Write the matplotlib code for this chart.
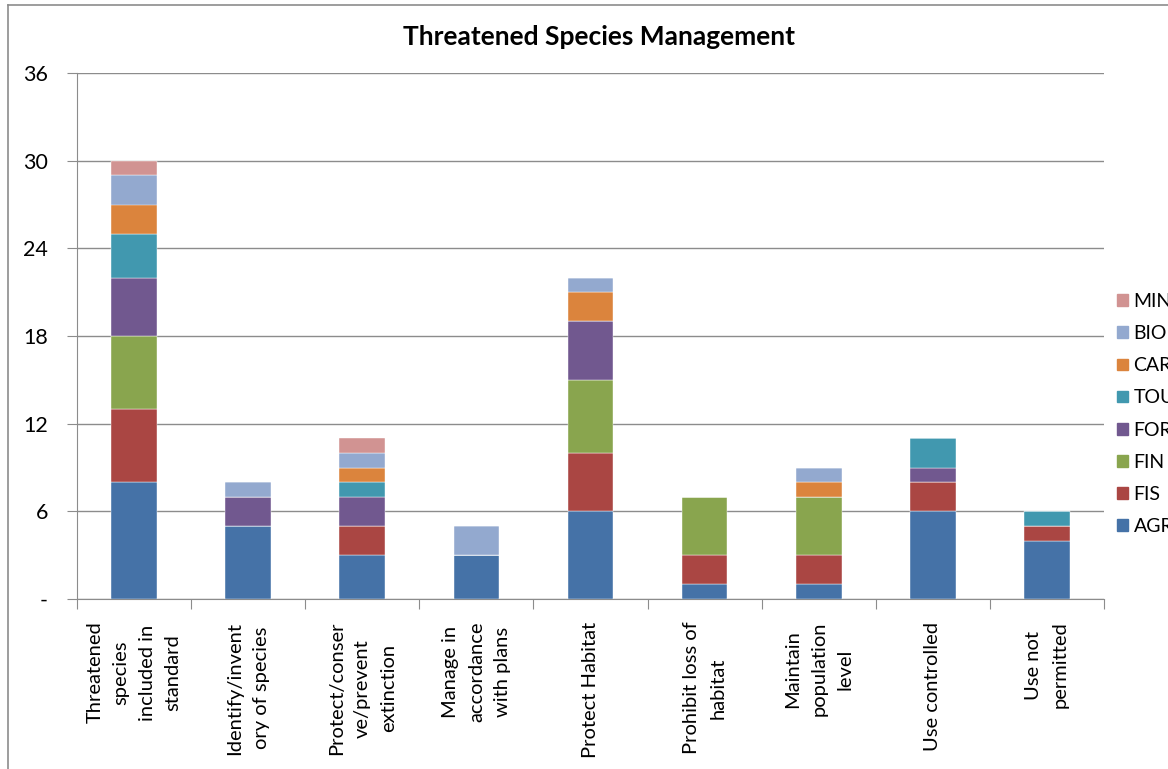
import matplotlib.pyplot as plt
from matplotlib.lines import Line2D
from matplotlib.patches import Patch
import numpy as np

plt.rcParams['font.family'] = ['Lato', 'DejaVu Sans']

# Datos del gráfico
categories = ['Threatened\nspecies\nincluded in\nstandard',
              'Identify/invent\nory of species',
              'Protect/conser\nve/prevent\nextinction',
              'Manage in\naccordance\nwith plans',
              'Protect Habitat',
              'Prohibit loss of\nhabitat',
              'Maintain\npopulation\nlevel',
              'Use controlled',
              'Use not\npermitted']
series_names = ['AGR', 'FIS', 'FIN', 'FOR', 'TOU', 'CAR', 'BIO', 'MIN']
agr = [8, 5, 3, 3, 6, 1, 1, 6, 4]
fis = [5, 0, 2, 0, 4, 2, 2, 2, 1]
fin = [5, 0, 0, 0, 5, 4, 4, 0, 0]
fo = [4, 2, 2, 0, 4, 0, 0, 1, 0]
tou = [3, 0, 1, 0, 0, 0, 0, 2, 1]
car = [2, 0, 1, 0, 2, 0, 1, 0, 0]
bio = [2, 1, 1, 2, 1, 0, 1, 0, 0]
mi = [1, 0, 1, 0, 0, 0, 0, 0, 0]
y_ticks = [0, 6, 12, 18, 24, 30, 36]
y_tick_labels = ['-', '6', '12', '18', '24', '30', '36']

colors = ['#4572A7', '#AA4643', '#89A54E', '#71588F', '#4198AF', '#DB843D', '#93A9CF', '#D19392']
values = [agr, fis, fin, fo, tou, car, bio, mi]

fig = plt.figure(figsize=(11.68, 7.69), dpi=100)
ax = fig.add_axes([77 / 1168, 1 - 599 / 769, (1104 - 77) / 1168, (599 - 73) / 769])

x = np.arange(len(categories))
bottom = np.zeros(len(categories))
for name, vals, c in zip(series_names, values, colors):
    ax.bar(x, vals, width=0.4, bottom=bottom, color=c, label=name,
           edgecolor='white', linewidth=0.3, zorder=3)
    bottom += np.array(vals)

ax.set_xlim(-0.5, len(categories) - 0.5)
ax.set_ylim(0, 36)
ax.set_yticks(y_ticks)
ax.set_yticklabels(y_tick_labels, fontsize=15.5)
ax.yaxis.grid(True, color='#8c8c8c', linewidth=1, zorder=0)
ax.tick_params(axis='y', length=7, color='#8c8c8c', pad=14)

# ticks de categoría en los límites
ax.set_xticks(np.arange(len(categories) + 1) - 0.5)
ax.set_xticklabels([])
ax.tick_params(axis='x', length=7, color='#8c8c8c')
for xi, lab in zip(x, categories):
    ax.text(xi, -1.55, lab, rotation=90, ha='center', va='top', multialignment='center',
            fontsize=14.5, linespacing=1.65, transform=ax.transData)

for s in ['top', 'right']:
    ax.spines[s].set_visible(False)
for s in ['left', 'bottom']:
    ax.spines[s].set_color('#8c8c8c')

fig.text(599 / 1168, 1 - 37 / 769, 'Threatened Species Management', ha='center', va='center',
         fontsize=19, fontweight='bold')

handles = [Patch(color=c, label=n) for n, c in zip(series_names, colors)][::-1]
fig.legend(handles=handles, loc='center left', bbox_to_anchor=(1117 / 1168, 1 - 414 / 769),
           frameon=False, fontsize=14, handlelength=0.55, handleheight=0.55,
           handletextpad=0.3, labelspacing=0.78, borderpad=0, borderaxespad=0)

# marco exterior del gráfico
fig.add_artist(Line2D([8 / 1168, 8 / 1168], [0, 1 - 5 / 769], color='#8c8c8c', lw=1.2))
fig.add_artist(Line2D([8 / 1168, 1], [1 - 5 / 769, 1 - 5 / 769], color='#8c8c8c', lw=1.2))

fig.savefig('out.png', dpi=100)
